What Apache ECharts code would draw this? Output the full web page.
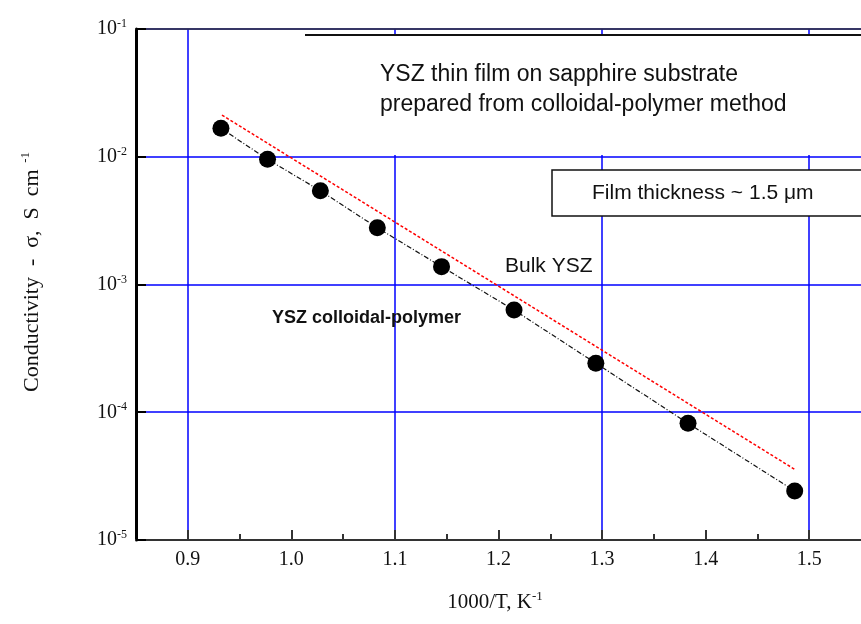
<!DOCTYPE html>
<html>
<head>
<meta charset="utf-8">
<script src="https://cdn.jsdelivr.net/npm/echarts@6/dist/echarts.min.js"></script>
<style>
  html, body { margin: 0; padding: 0; background: #fff; }
  #chart { width: 861px; height: 624px; }
</style>
</head>
<body>
<div id="chart"></div>
<script>
// Reciprocal temperature, 1000/T (K^-1)
const invT = [0.932, 0.977, 1.028, 1.083, 1.145, 1.215, 1.294, 1.383, 1.486];
// Measured conductivity of the colloidal-polymer film (S/cm)
const sigmaFilm = [1.67e-2, 9.55e-3, 5.42e-3, 2.78e-3, 1.38e-3, 6.31e-4, 2.42e-4, 8.19e-5, 2.42e-5];
// Reference line for bulk YSZ (end points of the Arrhenius line)
const bulkInvT = [0.933, 1.487];
const bulkSigma = [2.12e-2, 3.53e-5];
// Axis tick values
const xMajorTicks = [0.9, 1.0, 1.1, 1.2, 1.3, 1.4, 1.5];
const xMinorTicks = [0.95, 1.05, 1.15, 1.25, 1.35, 1.45];
const xGridTicks = [0.9, 1.1, 1.3, 1.5];

const serif = 'Liberation Serif';
const sans = 'Liberation Sans';
const gridBlue = '#0000ff';

const filmData = invT.map((x, i) => [x, sigmaFilm[i]]);
const bulkData = bulkInvT.map((x, i) => [x, bulkSigma[i]]);

const xBase = { type: 'value', min: 0.85, max: 1.55, gridIndex: 0 };

const chart = echarts.init(document.getElementById('chart'), null, { renderer: 'canvas' });
chart.setOption({
  animation: false,
  backgroundColor: '#fff',
  grid: { left: 136, top: 29, right: -5, bottom: 84, containLabel: false },
  xAxis: [
    Object.assign({}, xBase, {
      position: 'bottom',
      axisLine: { show: true, lineStyle: { color: '#333', width: 2 } },
      axisTick: { show: true, inside: true, length: 10, customValues: xMajorTicks,
                  lineStyle: { color: '#333', width: 2 } },
      axisLabel: { show: true, customValues: xMajorTicks, margin: 10,
                   formatter: v => Number(v).toFixed(1),
                   fontFamily: serif, fontSize: 20, color: '#111' },
      splitLine: { show: false }
    }),
    Object.assign({}, xBase, {
      position: 'bottom',
      axisLine: { show: false },
      axisTick: { show: true, inside: true, length: 6, customValues: xMinorTicks,
                  lineStyle: { color: '#333', width: 2 } },
      axisLabel: { show: false },
      splitLine: { show: false }
    }),
    Object.assign({}, xBase, {
      position: 'bottom',
      axisLine: { show: false },
      axisTick: { show: false, customValues: xGridTicks },
      axisLabel: { show: false },
      splitLine: { show: true, showMinLine: true, showMaxLine: true,
                   lineStyle: { color: gridBlue, width: 1.5 } }
    }),
    Object.assign({}, xBase, {
      position: 'top',
      axisLine: { show: true, onZero: false, lineStyle: { color: '#333', width: 1.5 } },
      axisTick: { show: false },
      axisLabel: { show: false },
      splitLine: { show: false }
    })
  ],
  yAxis: {
    type: 'log',
    logBase: 10,
    min: 1e-5,
    max: 1e-1,
    axisLine: { show: true, lineStyle: { color: '#000', width: 3 } },
    axisTick: { show: true, inside: true, length: 10, lineStyle: { color: '#000', width: 2 } },
    minorTick: { show: false },
    axisLabel: {
      margin: 9,
      formatter: v => '{b|10}{s|' + Math.round(Math.log10(v)) + '}',
      rich: {
        b: { fontFamily: serif, fontSize: 20, color: '#111', lineHeight: 22 },
        s: { fontFamily: serif, fontSize: 12, color: '#111', lineHeight: 12, verticalAlign: 'top' }
      }
    },
    splitLine: { show: true, showMinLine: false, showMaxLine: false,
                 lineStyle: { color: gridBlue, width: 1.5 } }
  },
  series: [
    {
      name: 'Bulk YSZ',
      type: 'line',
      xAxisIndex: 0,
      data: bulkData,
      symbol: 'none',
      z: 3,
      lineStyle: { color: '#ff0000', width: 1.5, type: [3, 2] }
    },
    {
      name: 'YSZ colloidal-polymer',
      type: 'line',
      xAxisIndex: 0,
      data: filmData,
      symbol: 'circle',
      symbolSize: 17,
      z: 4,
      itemStyle: { color: '#000' },
      lineStyle: { color: '#111', width: 1.2, type: [5, 2, 1, 2] }
    }
  ],
  graphic: [
    // white text frame behind the heading
    { type: 'rect', z: 1, silent: true,
      shape: { x: 305, y: 35, width: 570, height: 120 },
      style: { fill: '#fff' } },
    { type: 'line', z: 5, silent: true,
      shape: { x1: 305, y1: 35, x2: 861, y2: 35 },
      style: { stroke: '#111', lineWidth: 2 } },
    { type: 'text', z: 10, x: 380, y: 75,
      style: { text: 'YSZ thin film on sapphire substrate', fill: '#111',
               font: '23px ' + sans, align: 'left', verticalAlign: 'middle' } },
    { type: 'text', z: 10, x: 380, y: 105,
      style: { text: 'prepared from colloidal-polymer method', fill: '#111',
               font: '23px ' + sans, align: 'left', verticalAlign: 'middle' } },
    // film thickness box
    { type: 'rect', z: 1, silent: true,
      shape: { x: 552, y: 170, width: 330, height: 46 },
      style: { fill: '#fff', stroke: '#111', lineWidth: 1.5 } },
    { type: 'text', z: 10, x: 592, y: 193,
      style: { text: 'Film thickness ~ 1.5 μm', fill: '#111',
               font: '21px ' + sans, align: 'left', verticalAlign: 'middle' } },
    // series labels
    { type: 'text', z: 10, x: 505, y: 266,
      style: { text: 'Bulk YSZ', fill: '#111',
               font: '21px ' + sans, align: 'left', verticalAlign: 'middle' } },
    { type: 'text', z: 10, x: 272, y: 318,
      style: { text: 'YSZ colloidal-polymer', fill: '#111',
               font: 'bold 18px ' + sans, align: 'left', verticalAlign: 'middle' } },
    // axis titles
    { type: 'text', z: 10, x: 495, y: 602,
      style: { text: '{a|1000/T, K}{s|-1}', align: 'center', verticalAlign: 'middle',
               rich: {
                 a: { fontFamily: serif, fontSize: 21, fill: '#111', lineHeight: 24 },
                 s: { fontFamily: serif, fontSize: 13, fill: '#111', lineHeight: 13, verticalAlign: 'top' }
               } } },
    { type: 'text', z: 10, x: 32, y: 272, rotation: Math.PI / 2,
      style: { text: '{a|Conductivity  -  σ,  S  cm}{s|  -1}', align: 'center', verticalAlign: 'middle',
               rich: {
                 a: { fontFamily: serif, fontSize: 22, fill: '#111', lineHeight: 25 },
                 s: { fontFamily: serif, fontSize: 13, fill: '#111', lineHeight: 13, verticalAlign: 'top' }
               } } }
  ]
});
</script>
</body>
</html>
